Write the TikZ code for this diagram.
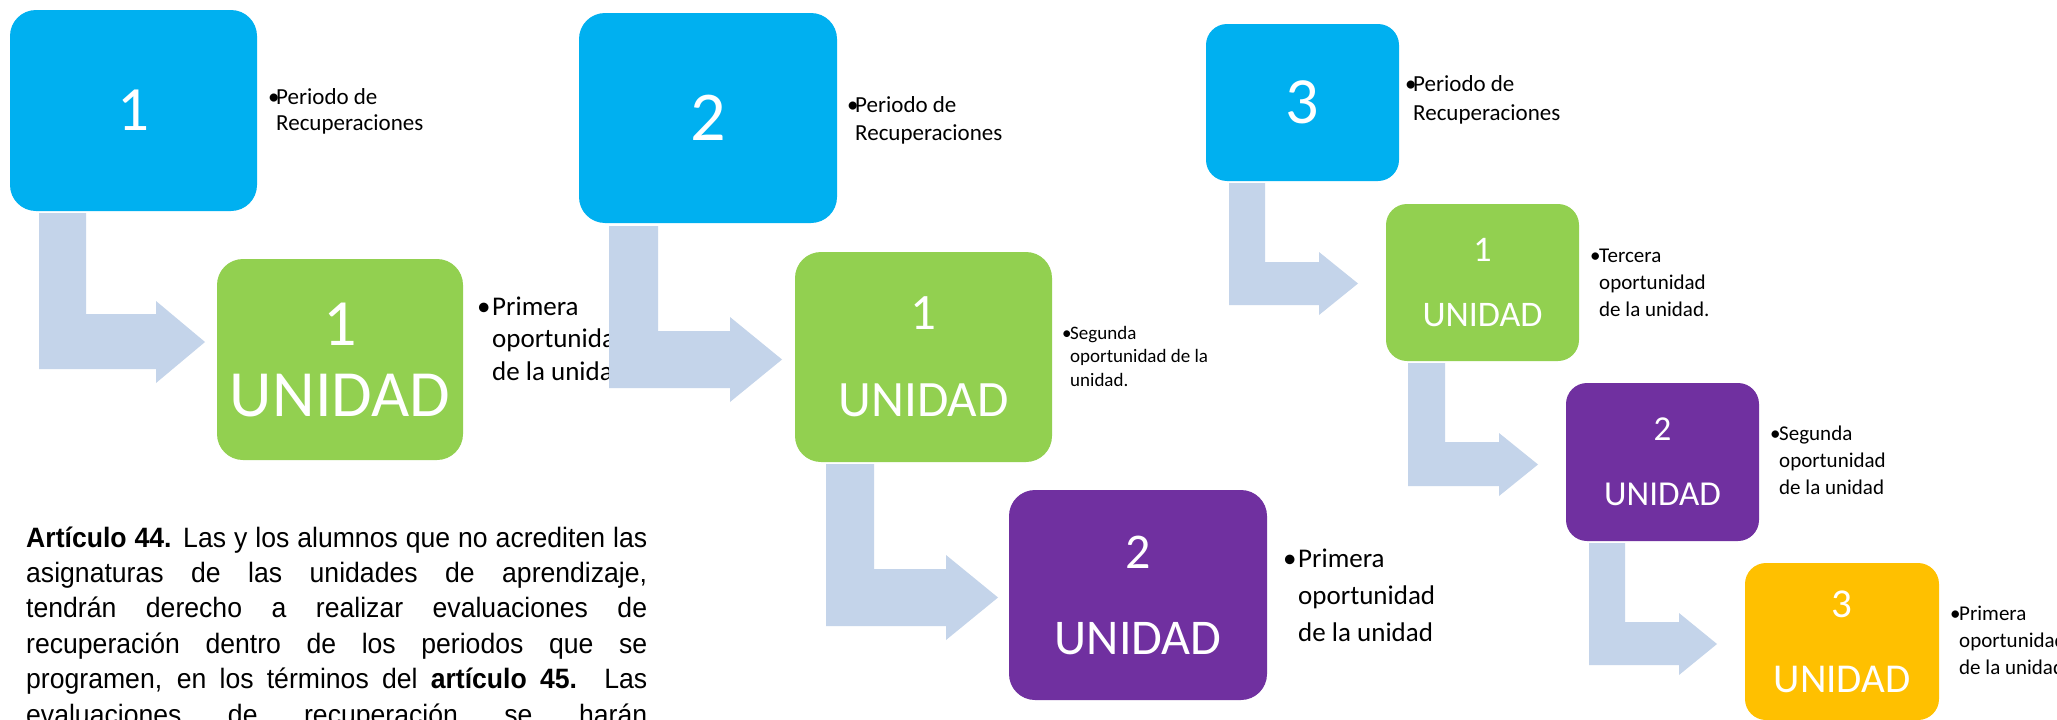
\documentclass[tikz,border=0pt]{standalone}
\usepackage{fontspec}
\setmainfont{Carlito}
\newfontfamily\parafont[FakeStretch=0.95]{Liberation Sans}
\definecolor{cblue}{HTML}{00B0F0}
\definecolor{cgreen}{HTML}{92D050}
\definecolor{cpurple}{HTML}{7030A0}
\definecolor{cyellow}{HTML}{FFC000}
\definecolor{carrow}{RGB}{196,212,234}
% bent block arrow: #1 shaft left x, #2 shaft right x, #3 top y, #4 band top y,
% #5 band bottom y, #6 head base x, #7 head top y, #8 head bottom y, #9 tip x
\newcommand\bentarrow[9]{%
  \fill[carrow] (#1,#3) -- (#2,#3) -- (#2,#4) -- (#6,#4) -- (#6,#7)
    -- (#9,{(#7+#8)/2}) -- (#6,#8) -- (#6,#5) -- (#1,#5) -- cycle;}
\newcommand\bul[1]{\makebox[#1][l]{\textbullet}}
\begin{document}
\begin{tikzpicture}[x=1pt,y=-1pt,
  box/.style={draw=none, inner sep=0pt, text=white, align=center},
  bigbox/.style={box, rounded corners=26pt},
  smallbox/.style={box, rounded corners=21pt},
  note/.style={anchor=west, inner sep=0pt, text=black, align=left}]
\useasboundingbox (0,0) rectangle (2057,720);
\fill[white] (0,0) rectangle (2057,720);

% ---------- annotations ----------
\node[note, font=\fontsize{23}{26}\selectfont] (t1) at (268,112)
  {\begin{tabular}{@{}l@{}l@{}}\bul{8pt}&Periodo de\\&Recuperaciones\end{tabular}};
\node[note, font=\fontsize{23}{28}\selectfont] (t2) at (847,121)
  {\begin{tabular}{@{}l@{}l@{}}\bul{8pt}&Periodo de\\&Recuperaciones\end{tabular}};
\node[note, font=\fontsize{23}{29}\selectfont] (t3) at (1405,100)
  {\begin{tabular}{@{}l@{}l@{}}\bul{8pt}&Periodo de\\&Recuperaciones\end{tabular}};
\node[note, font=\fontsize{27}{32.5}\selectfont] (t4) at (477,341)
  {\begin{tabular}{@{}l@{}l@{}}\bul{15pt}&Primera\\&oportunidad\\&de la unidad\end{tabular}};
\node[note, font=\fontsize{19}{23.5}\selectfont] (t5) at (1062,358)
  {\begin{tabular}{@{}l@{}l@{}}\bul{8pt}&Segunda\\&oportunidad de la\\&unidad.\end{tabular}};
\node[note, font=\fontsize{27}{37}\selectfont] (t6) at (1283,597)
  {\begin{tabular}{@{}l@{}l@{}}\bul{15pt}&Primera\\&oportunidad\\&de la unidad\end{tabular}};
\node[note, font=\fontsize{21}{27}\selectfont] (t7) at (1590,284)
  {\begin{tabular}{@{}l@{}l@{}}\bul{9pt}&Tercera\\&oportunidad\\&de la unidad.\end{tabular}};
\node[note, font=\fontsize{21}{27}\selectfont] (t8) at (1770,462)
  {\begin{tabular}{@{}l@{}l@{}}\bul{9pt}&Segunda\\&oportunidad\\&de la unidad\end{tabular}};
\node[note, font=\fontsize{21}{27}\selectfont] (t9) at (1950,642)
  {\begin{tabular}{@{}l@{}l@{}}\bul{9pt}&Primera\\&oportunidad\\&de la unidad\end{tabular}};

% ---------- paragraph (base = baseline of its last line) ----------
\node[anchor=base west, inner sep=0pt, align=left,
      font=\parafont\fontsize{28}{35.4}\selectfont] (para) at (26,724)
  {\makebox[621pt][s]{\textbf{Artículo 44.} Las y los alumnos que no acrediten las}\\
   \makebox[621pt][s]{asignaturas de las unidades de aprendizaje,}\\
   \makebox[621pt][s]{tendrán derecho a realizar evaluaciones de}\\
   \makebox[621pt][s]{recuperación dentro de los periodos que se}\\
   \makebox[621pt][s]{programen, en los términos del \textbf{artículo 45.} Las}\\
   \makebox[621pt][s]{evaluaciones de recuperación se harán}};

% ---------- arrows ----------
\bentarrow{39}{86}{213}{314}{369}{156}{301}{383}{205}
\bentarrow{609}{658}{226}{331}{388}{730}{317}{402}{782}
\bentarrow{826}{874}{464}{569}{626}{946}{555}{640}{998}
\bentarrow{1229}{1265}{183}{262}{305}{1319}{252}{315}{1358}
\bentarrow{1408}{1445}{363}{442}{486}{1499}{433}{496}{1538}
\bentarrow{1589}{1625}{543}{622}{665}{1679}{613}{675}{1717}

% ---------- boxes ----------
\node[bigbox, fill=cblue, minimum width=247pt, minimum height=201pt,
      font=\fontsize{63}{63}\selectfont] (b1) at (133.5,110.5) {1};
\node[bigbox, fill=cgreen, minimum width=246pt, minimum height=201pt,
      font=\fontsize{66}{71}\selectfont] (g1) at (340,359.5) {1\\UNIDAD};
\node[bigbox, fill=cblue, minimum width=258pt, minimum height=210pt,
      font=\fontsize{70}{70}\selectfont] (b2) at (708,118) {2};
\node[bigbox, fill=cgreen, minimum width=257pt, minimum height=210pt,
      font=\fontsize{51}{87}\selectfont] (g2) at (923.5,357) {1\\UNIDAD};
\node[bigbox, fill=cpurple, minimum width=258pt, minimum height=210pt,
      font=\fontsize{50}{86}\selectfont] (p1) at (1138,595) {2\\UNIDAD};
\node[smallbox, fill=cblue, minimum width=193pt, minimum height=157pt,
      font=\fontsize{66}{66}\selectfont] (b3) at (1302.5,102.5) {3};
\node[smallbox, fill=cgreen, minimum width=193pt, minimum height=157pt,
      font=\fontsize{36}{65}\selectfont] (g3) at (1482.5,282.5) {1\\UNIDAD};
\node[smallbox, fill=cpurple, minimum width=193pt, minimum height=158pt,
      font=\fontsize{35}{65}\selectfont] (p2) at (1662.5,462) {2\\UNIDAD};
\node[smallbox, fill=cyellow, minimum width=194pt, minimum height=157pt,
      font=\fontsize{41}{75}\selectfont] (y1) at (1842,641.5) {3\\UNIDAD};
\end{tikzpicture}
\end{document}
